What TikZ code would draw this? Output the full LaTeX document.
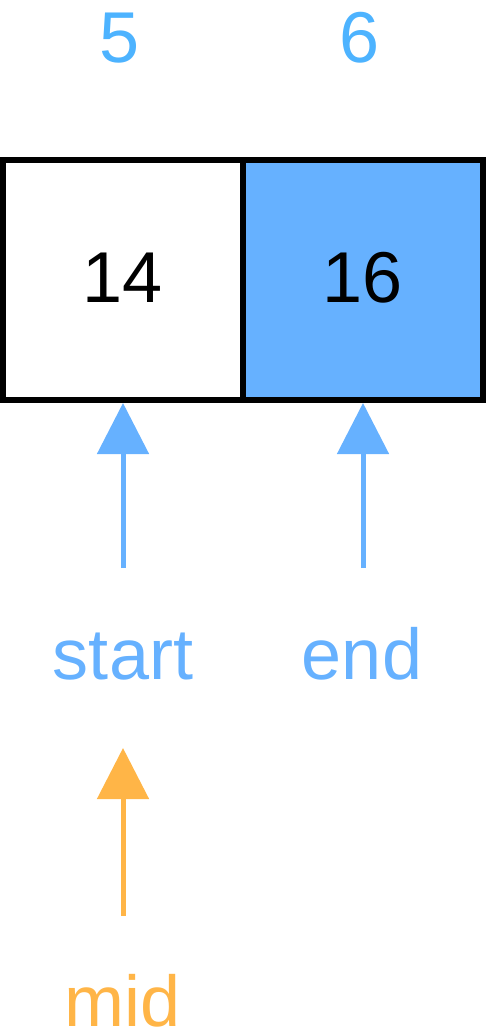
\documentclass[tikz,border=0pt]{standalone}
\usepackage{fontspec}
\setmainfont{Liberation Sans}
\usetikzlibrary{arrows.meta}
\definecolor{idxblue}{HTML}{4DB3FF}
\definecolor{cellblue}{HTML}{66B1FF}
\definecolor{midorange}{HTML}{FFB547}
\tikzset{
  cell/.style={draw=black, line width=6pt, minimum width=240pt, minimum height=240pt,
    inner sep=0pt, text height=51.6pt, text depth=7.6pt,
    font=\fontsize{72}{86}\selectfont},
  lbl/.style={anchor=base, inner sep=0pt, font=\fontsize{72}{86}\selectfont},
  ptr/.style={line width=5pt, -{Triangle[length=51pt, width=51pt]}},
}
\begin{document}
\begin{tikzpicture}[x=1pt, y=-1pt]
\useasboundingbox (0,0) rectangle (486,1034);
% index labels
\node[lbl, text=idxblue] (i5) at (120,62) {5};
\node[lbl, text=idxblue] (i6) at (360,62) {6};
% cells
\node[cell, fill=white] (c1) at (123,280) {14};
\node[cell, fill=cellblue] (c2) at (363,280) {16};
% pointer labels
\node[lbl, text=cellblue] (start) at (123,679) {start};
\node[lbl, text=cellblue] (end) at (362,679) {end};
\node[lbl, text=midorange] (mid) at (122.5,1026.5) {mid};
% arrows
\coordinate (sa) at (123,568);
\coordinate (ea) at (363,568);
\coordinate (ma) at (123,916);
\coordinate (mt) at (123,748);
\draw[ptr, draw=cellblue, fill=cellblue] (sa) -- (c1.south);
\draw[ptr, draw=cellblue, fill=cellblue] (ea) -- (c2.south);
\draw[ptr, draw=midorange, fill=midorange] (ma) -- (mt);
\end{tikzpicture}
\end{document}
